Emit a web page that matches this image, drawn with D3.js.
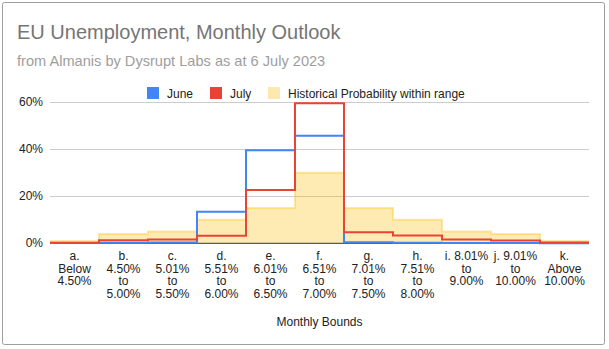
<!DOCTYPE html>
<html><head><meta charset="utf-8">
<script src="https://cdn.jsdelivr.net/npm/d3@7"></script>
<style>body{margin:0;background:#fff;}svg{display:block;font-family:Arial,"Liberation Sans",sans-serif;}</style>
</head><body>
<script>
const categories = [
  ["a.","Below","4.50%"],
  ["b.","4.50%","to","5.00%"],
  ["c.","5.01%","to","5.50%"],
  ["d.","5.51%","to","6.00%"],
  ["e.","6.01%","to","6.50%"],
  ["f.","6.51%","to","7.00%"],
  ["g.","7.01%","to","7.50%"],
  ["h.","7.51%","to","8.00%"],
  ["i. 8.01%","to","9.00%"],
  ["j. 9.01%","to","10.00%"],
  ["k.","Above","10.00%"]
];
const june = [0.1, 0.2, 0.3, 13.4, 39.6, 45.8, 0.4, 0.2, 0.1, 0.1, 0.0];
const july = [0.2, 1.3, 1.6, 3.2, 22.7, 59.6, 4.7, 3.3, 1.6, 1.2, 0.3];
const historical = [1, 4, 5, 10, 15, 30, 15, 10, 5, 4, 1];
const yTicks = [0, 20, 40, 60];
const seriesNames = ["June", "July", "Historical Probability within range"];
const titleText = "EU Unemployment, Monthly Outlook";
const subtitleText = "from Almanis by Dysrupt Labs as at 6 July 2023";
const xTitle = "Monthly Bounds";

const W = 609, H = 349;
const svg = d3.select("body").append("svg").attr("width", W).attr("height", H);

svg.append("rect").attr("x", 2.5).attr("y", 2.5).attr("width", 602).attr("height", 342)
  .attr("rx", 2).attr("fill", "#fff").attr("stroke", "#9e9e9e").attr("stroke-width", 1);

svg.append("text").attr("x", 17).attr("y", 39).attr("font-size", 20).attr("fill", "#757575").text(titleText);
svg.append("text").attr("x", 17).attr("y", 66).attr("font-size", 14.6).attr("fill", "#9e9e9e").text(subtitleText);

const colors = ["#4285F4", "#EA4335", "#FBBC04"];
// legend
const legendX = [147, 210, 268];
seriesNames.forEach((n, i) => {
  svg.append("rect").attr("x", legendX[i]).attr("y", 87).attr("width", 12).attr("height", 12)
    .attr("fill", i === 2 ? "#fde9b0" : colors[i]);
  svg.append("text").attr("x", legendX[i] + 20).attr("y", 98).attr("font-size", 12).attr("fill", "#222").text(n);
});

const x = d3.scaleLinear().domain([0, categories.length]).range([50, 589]);
const y = d3.scaleLinear().domain([0, 60]).range([243.3, 102.3]);

// gridlines
svg.append("g").selectAll("line").data(yTicks.filter(t => t > 0)).join("line")
  .attr("x1", x(0)).attr("x2", x(categories.length))
  .attr("y1", d => Math.round(y(d)) + 0.5).attr("y2", d => Math.round(y(d)) + 0.5)
  .attr("stroke", "#ccc");

// y labels
svg.append("g").selectAll("text").data(yTicks).join("text")
  .attr("x", 43).attr("y", d => y(d) + 4).attr("text-anchor", "end")
  .attr("font-size", 12).attr("fill", "#222").text(d => d + "%");

function pts(vals) {
  const p = vals.map((v, i) => [i, v]);
  p.push([vals.length, vals[vals.length - 1]]);
  return p;
}
const line = d3.line().x(d => x(d[0])).y(d => y(d[1])).curve(d3.curveStepAfter);
const area = d3.area().x(d => x(d[0])).y0(y(0)).y1(d => y(d[1])).curve(d3.curveStepAfter);

svg.append("path").attr("d", area(pts(historical))).attr("fill", "#FBBC04").attr("fill-opacity", 0.3);
svg.append("line").attr("x1", x(0)).attr("x2", x(categories.length))
  .attr("y1", y(0)).attr("y2", y(0)).attr("stroke", "#333").attr("stroke-width", 1);
svg.append("path").attr("d", line(pts(historical))).attr("fill", "none")
  .attr("stroke", "#FBBC04").attr("stroke-opacity", 0.35).attr("stroke-width", 2);
svg.append("path").attr("d", line(pts(june))).attr("fill", "none")
  .attr("stroke", colors[0]).attr("stroke-width", 2);
svg.append("path").attr("d", line(pts(july))).attr("fill", "none")
  .attr("stroke", colors[1]).attr("stroke-width", 2);

// x labels
const xl = svg.append("g");
categories.forEach((lines, i) => {
  const t = xl.append("text").attr("text-anchor", "middle").attr("font-size", 12).attr("fill", "#222");
  lines.forEach((s, j) => {
    t.append("tspan").attr("x", x(i + 0.5)).attr("y", 260 + j * 12.6).text(s);
  });
});

svg.append("text").attr("x", (x(0) + x(categories.length)) / 2).attr("y", 326)
  .attr("text-anchor", "middle").attr("font-size", 12).attr("fill", "#222").text(xTitle);
</script>
</body></html>
